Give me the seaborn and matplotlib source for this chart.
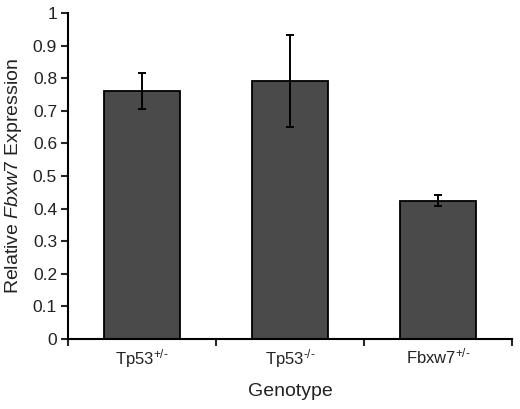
import seaborn as sns
import matplotlib.pyplot as plt
import pandas as pd
from matplotlib.ticker import FixedLocator

# data
genotypes = ['Tp53$^{+/\u2010}$', 'Tp53$^{\u2010/\u2010}$', 'Fbxw7$^{+/\u2010}$']
expression = [0.762, 0.792, 0.425]
errors = [0.055, 0.141, 0.016]
yticks = [0, 0.1, 0.2, 0.3, 0.4, 0.5, 0.6, 0.7, 0.8, 0.9, 1]
yticklabels = ['0', '0.1', '0.2', '0.3', '0.4', '0.5', '0.6', '0.7', '0.8', '0.9', '1']

df = pd.DataFrame({'Genotype': genotypes, 'Expression': expression})

sns.set_style('white')
plt.rcParams['font.family'] = ['Liberation Sans', 'DejaVu Sans']
plt.rcParams['mathtext.fontset'] = 'custom'
plt.rcParams['mathtext.rm'] = 'Liberation Sans'
plt.rcParams['mathtext.it'] = 'Liberation Sans:italic'

fig = plt.figure(figsize=(5.2, 4.09), dpi=100)
ax = fig.add_axes([0.131, 0.171, 0.854, 0.797])

sns.barplot(data=df, x='Genotype', y='Expression', color='#4a4a4a', saturation=1,
            width=0.51, edgecolor='black', linewidth=1.3, errorbar=None, ax=ax)
ax.errorbar(genotypes, expression, yerr=errors, fmt='none', ecolor='black',
            elinewidth=1.4, capsize=3, capthick=1.4)

ax.set_ylim(0, 1)
ax.set_xlim(-0.5, 2.5)
ax.set_yticks(yticks)
ax.set_yticklabels(yticklabels)
ax.xaxis.set_minor_locator(FixedLocator([-0.5, 0.5, 1.5, 2.5]))

for side in ['top', 'right']:
    ax.spines[side].set_visible(False)
for side in ['left', 'bottom']:
    ax.spines[side].set_color('black')
    ax.spines[side].set_linewidth(1.5)

ax.tick_params(axis='y', which='major', left=True, direction='out', length=5, width=1.5,
               labelsize=12.5, pad=3, labelcolor='#222222')
ax.tick_params(axis='x', which='major', bottom=False, labelsize=12, pad=2, labelcolor='#222222')
ax.tick_params(axis='x', which='minor', bottom=True, direction='out', length=5, width=1.5)

ax.set_xlabel('Genotype', fontsize=14, labelpad=10, color='#222222')
ax.set_ylabel('Relative $\\it{Fbxw7}$ Expression', fontsize=14, labelpad=6, color='#222222')

fig.savefig('out.png', dpi=100)
